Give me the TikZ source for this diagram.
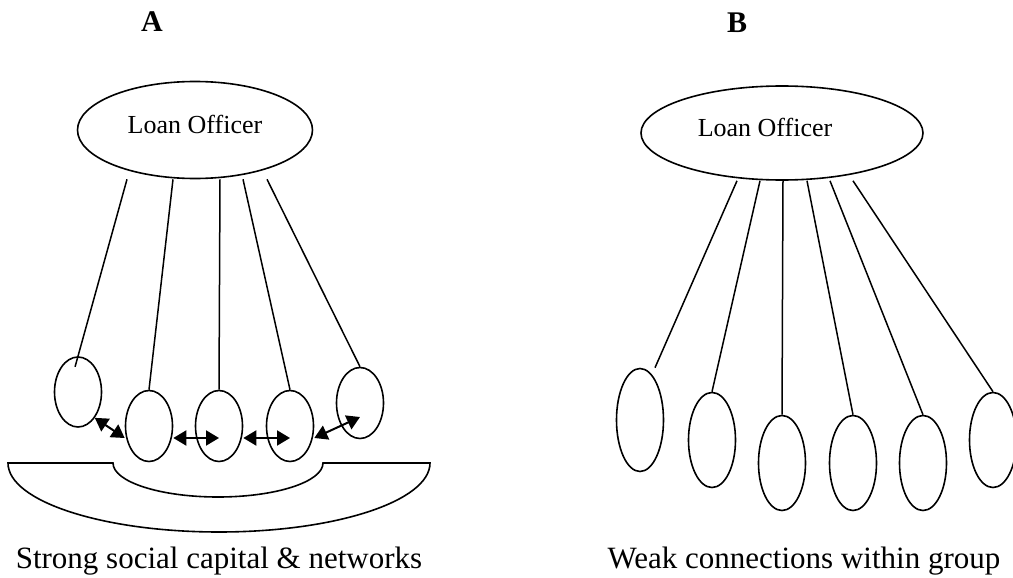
\documentclass[tikz,border=0pt]{standalone}
\usepackage{fontspec}
\setmainfont{Liberation Serif}
\usetikzlibrary{arrows.meta, shapes.geometric, calc}

\begin{document}
\begin{tikzpicture}[
    x=1pt, y=-1pt,
    officer/.style={
        draw=black,
        ellipse,
        inner sep=0pt,
        font=\fontsize{26}{30}\selectfont,
        line width=1.6pt
    },
    member/.style={
        draw=black,
        ellipse,
        inner sep=0pt,
        minimum width=47pt,
        line width=1.6pt
    },
    tie/.style={
        line width=1.5pt,
        draw=black
    },
    link/.style={
        {Triangle[length=13pt,width=15pt]}-{Triangle[length=13pt,width=15pt]},
        line width=2pt
    },
    heading/.style={
        font=\fontsize{30}{34}\selectfont\bfseries,
        anchor=base
    },
    caption/.style={
        font=\fontsize{31}{36}\selectfont,
        anchor=base
    }
]

\useasboundingbox (0,0) rectangle (1013,578);

% panel A
\node[heading] (titleA) at (152,32) {A};
\node[officer, minimum width=235pt, minimum height=97pt] (loA) at (195,130)
    {\raisebox{11pt}{Loan Officer}};

\node[member, minimum height=70pt] (a1) at (78,392) {};
\node[member, minimum height=71pt] (a2) at (149,426) {};
\node[member, minimum height=71pt] (a3) at (219,426) {};
\node[member, minimum height=71pt] (a4) at (290,426) {};
\node[member, minimum height=71pt] (a5) at (360,403) {};

\foreach \dx/\m/\s in {-68/a1/-11pt, -22/a2/0pt, 25/a3/0pt, 48/a4/0pt, 72/a5/0pt}
    \draw[tie, shorten >=\s] (loA.south) ++(\dx,0) -- (\m.north);

\draw[link] (a1.-57) -- ($(a2.west)+(0,12)$);
\draw[link] ($(a2.east)+(0,12)$) -- ($(a3.center)+(0,12)$);
\draw[link] ($(a3.east)+(0,12)$) -- ($(a4.center)+(0,12)$);
\draw[link] ($(a4.east)+(0,12)$) -- ($(a5.center)+(0,14)$);

% the group that holds them
\draw[line width=1.6pt] (8,463) -- (113,463)
    arc[start angle=180, end angle=0, x radius=105, y radius=34]
    -- (430,463)
    arc[start angle=0, end angle=180, x radius=211, y radius=69] -- cycle;

\node[caption] (capA) at (219,568) {Strong social capital \& networks};

% panel B
\node[heading] (titleB) at (737,33) {B};
\node[officer, minimum width=282pt, minimum height=94pt] (loB) at (782,133)
    {\hspace*{-34pt}\raisebox{11pt}{Loan Officer}};

\node[member, minimum height=103pt] (b1) at (640,420) {};
\node[member, minimum height=95pt] (b2) at (712,440) {};
\node[member, minimum height=95pt] (b3) at (782,463) {};
\node[member, minimum height=95pt] (b4) at (853,463) {};
\node[member, minimum height=95pt] (b5) at (923,463) {};
\node[member, minimum height=95pt] (b6) at (993,440) {};

\foreach \dx/\m/\ex in {-45/b1/15, -22/b2/0, 1/b3/0, 25/b4/0, 48/b5/0, 71/b6/0}
    \draw[tie] (loB.south) ++(\dx,0) -- ($(\m.north)+(\ex,0)$);

\node[caption] (capB) at (804,568) {Weak connections within group};

\end{tikzpicture}
\end{document}
